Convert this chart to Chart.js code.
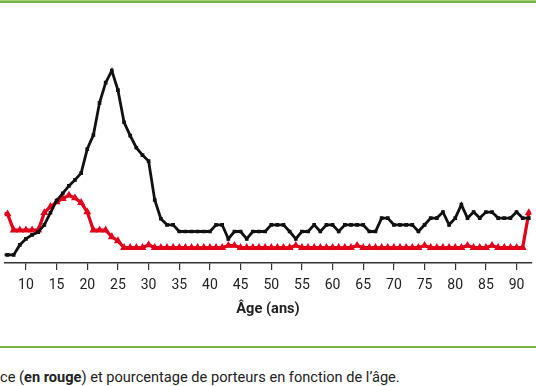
<!DOCTYPE html>
<html>
<head>
<meta charset="utf-8">
<script src="https://cdn.jsdelivr.net/npm/chart.js@4/dist/chart.umd.min.js"></script>
<style>
  html, body { margin: 0; padding: 0; background: #fff; overflow: hidden; }
  body { width: 536px; height: 386px; position: relative; font-family: Roboto, "Noto Sans", sans-serif; }
  .rule-top { position: absolute; left: 0; top: 0; width: 536px; height: 1px; background: #a9d27c; }
  .rule-top2 { position: absolute; left: 0; top: 1px; width: 536px; height: 2px; background: #78b443; }
  .rule-bottom { position: absolute; left: 0; top: 346px; width: 536px; height: 2px; background: #78b443; }
  #wrap { position: absolute; left: 0; top: 0; width: 536px; height: 330px; }
  .caption { position: absolute; left: 0; top: 369px; font-size: 14.6px; color: #222; white-space: nowrap; line-height: 16px; }
</style>
</head>
<body>
<div id="wrap"><canvas id="ageChart" width="536" height="330"></canvas></div>
<div class="rule-top"></div>
<div class="rule-top2"></div>
<div class="rule-bottom"></div>
<div class="caption">ce (<b>en rouge</b>) et pourcentage de porteurs en fonction de l’âge.</div>
<script>
// ages 6 -> 92
const ages = [];
for (let a = 6; a <= 92; a++) ages.push(a);

// pourcentage de porteurs (black)
const carriers = [
  1.2, 1.2, 1.2, 2.7, 3.6, 4.2, 4.6, 5.7, 7.5, 9.3,   // 6-15
  10.4, 11.5, 12.4, 13.4, 17.0, 19.1, 23.9, 26.9, 28.7, 25.8, // 16-25
  21.0, 19.0, 17.2, 16.1, 15.2, 9.4, 6.6, 5.7, 5.7, 4.7, // 26-35
  4.7, 4.7, 4.7, 4.7, 4.7, 5.7, 5.7, 3.6, 4.7, 4.7,     // 36-45
  3.6, 4.7, 4.7, 4.7, 5.7, 5.7, 5.7, 4.7, 3.6, 4.7,     // 46-55
  4.7, 5.7, 4.7, 5.7, 5.7, 4.7, 5.7, 5.7, 5.7, 5.7,     // 56-65
  4.7, 4.7, 6.7, 6.7, 5.7, 5.7, 5.7, 5.7, 4.7, 5.7,     // 66-75
  6.7, 6.7, 7.6, 5.7, 6.7, 8.7, 6.7, 7.6, 6.7, 7.6,     // 76-85
  7.6, 6.7, 6.7, 6.7, 7.6, 6.7, 6.7                     // 86-92
];

// prévalence (red)
const prevalence = [
  7.5, 7.3, 4.9, 4.9, 4.9, 4.9, 4.9, 7.5, 8.4, 9.1,     // 6-15
  9.6, 10.1, 9.7, 9.0, 7.6, 4.9, 4.9, 4.9, 3.9, 3.3,    // 16-25
  2.3, 2.3, 2.3, 2.3, 2.7, 2.3, 2.3, 2.3, 2.3, 2.3,     // 26-35
  2.3, 2.3, 2.3, 2.3, 2.3, 2.3, 2.3, 2.6, 2.6, 2.3,     // 36-45
  2.3, 2.3, 2.3, 2.3, 2.3, 2.3, 2.3, 2.3, 2.6, 2.3,     // 46-55
  2.3, 2.3, 2.3, 2.3, 2.3, 2.3, 2.3, 2.3, 2.6, 2.3,     // 56-65
  2.3, 2.3, 2.3, 2.3, 2.3, 2.3, 2.3, 2.3, 2.3, 2.6,     // 66-75
  2.3, 2.3, 2.3, 2.3, 2.3, 2.3, 2.6, 2.3, 2.3, 2.3,     // 76-85
  2.6, 2.3, 2.3, 2.3, 2.3, 2.3, 7.5                     // 86-92
];

const xTicks = [10, 15, 20, 25, 30, 35, 40, 45, 50, 55, 60, 65, 70, 75, 80, 85, 90];

function toPoints(vals) {
  return ages.map((a, i) => ({ x: a, y: vals[i] }));
}

new Chart(document.getElementById('ageChart'), {
  type: 'line',
  data: {
    datasets: [
      {
        label: 'Porteurs',
        data: toPoints(carriers),
        borderColor: '#111',
        backgroundColor: '#111',
        borderWidth: 2.8,
        pointStyle: 'rect',
        pointRadius: 2.6,
        pointBorderWidth: 0,
        tension: 0
      },
      {
        label: 'Prévalence',
        data: toPoints(prevalence),
        borderColor: '#e2001a',
        backgroundColor: '#e2001a',
        borderWidth: 3.2,
        pointStyle: 'triangle',
        pointRadius: 4.6,
        pointBorderWidth: 0,
        tension: 0
      }
    ]
  },
  options: {
    responsive: false,
    animation: false,
    devicePixelRatio: 1,
    layout: { padding: { top: 13, left: 0, right: 0, bottom: 0 } },
    plugins: { legend: { display: false }, tooltip: { enabled: false } },
    scales: {
      x: {
        type: 'linear',
        min: 6.52,
        max: 92.42,
        afterFit: s => { s.height = 67; },
        afterBuildTicks: s => { s.ticks = xTicks.map(v => ({ value: v })); },
        ticks: { includeBounds: false, color: '#222', padding: 7, font: { family: 'Roboto', size: 14 } },
        grid: { drawOnChartArea: false, tickLength: 7, color: '#333', lineWidth: 1.2 },
        border: { color: '#333', width: 1.5 },
        title: {
          display: true,
          text: 'Âge (ans)',
          color: '#222',
          padding: { top: 0, bottom: 12 },
          font: { family: 'Roboto', size: 14.6, weight: 'bold' }
        }
      },
      y: { display: false, min: 0, max: 37.3 }
    }
  }
});
</script>
</body>
</html>
